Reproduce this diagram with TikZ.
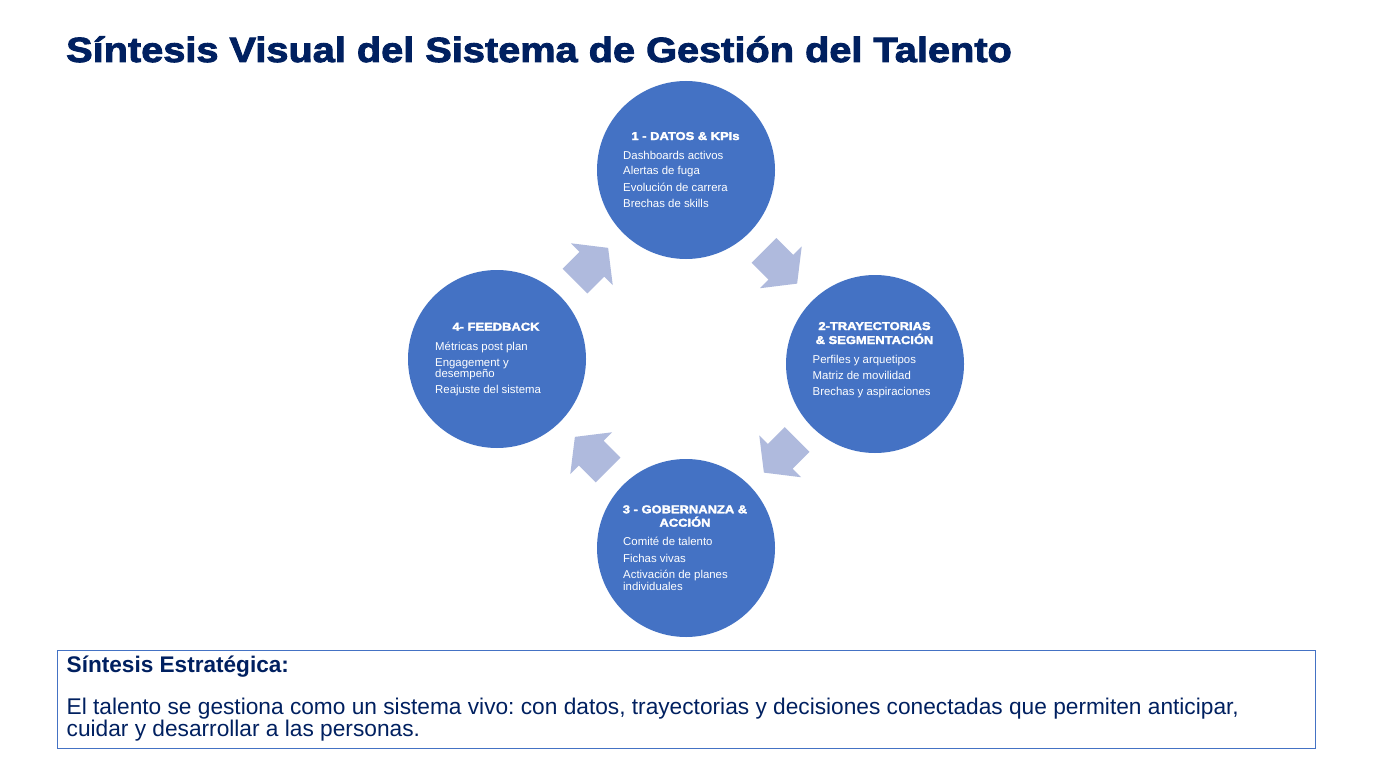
\documentclass[tikz,border=0pt]{standalone}
\usepackage{fontspec}
\setmainfont{Liberation Sans}
\newfontfamily\heavyfont{Liberation Sans}[BoldFeatures={FakeBold=2.6,FakeStretch=1.135}]
\usetikzlibrary{calc}
\frenchspacing
\definecolor{circblue}{HTML}{4472C4}
\definecolor{arrowblue}{HTML}{AFBADD}
\definecolor{navy}{HTML}{002060}
\tikzset{
  circ/.style={circle, fill=circblue, minimum size=178pt, inner sep=0pt},
  hd/.style={anchor=base, inner sep=0pt, text=white, font=\heavyfont\bfseries\fontsize{11.4}{12}\selectfont},
  itm/.style={anchor=base west, inner sep=0pt, text=white, font=\fontsize{11.4}{11.7}\selectfont},
  cyclearrow/.pic={\fill[arrowblue] (-23.5,17.5) -- (0.5,17.5) -- (0.5,29.5) -- (23.5,0) -- (0.5,-29.5) -- (0.5,-17.5) -- (-23.5,-17.5) -- cycle;}
}
\begin{document}
\begin{tikzpicture}[x=1pt,y=-1pt]
\useasboundingbox (0,0) rectangle (1373,773);
\fill[white] (0,0) rectangle (1373,773);
% title
\node[anchor=base west, inner sep=0pt, text=navy, font=\heavyfont\bfseries\fontsize{35}{40}\selectfont] (title) at (66,62) {Síntesis Visual del Sistema de Gestión del Talento};
% circles
\node[circ] (c1) at (686,170) {};
\node[circ] (c2) at (875,364) {};
\node[circ] (c3) at (686,548) {};
\node[circ] (c4) at (497,359) {};
% arrows
\pic[rotate=-45] at ($(c1)!0.5!(c2)$) {cyclearrow};
\pic[rotate=-135] at ($(c2)!0.5!(c3)$) {cyclearrow};
\pic[rotate=135] at ($(c3)!0.5!(c4)$) {cyclearrow};
\pic[rotate=45] at ($(c4)!0.5!(c1)$) {cyclearrow};
% circle 1
\node[hd] (h1) at (685.5,140) {1 - DATOS \& KPIs};
\node[itm] (i11) at (623,159) {Dashboards activos};
\node[itm] (i12) at (623,175) {Alertas de fuga};
\node[itm] (i13) at (623,191) {Evolución de carrera};
\node[itm] (i14) at (623,207.5) {Brechas de skills};
% circle 2
\node[hd] (h2a) at (874.5,330) {2-TRAYECTORIAS};
\node[hd] (h2b) at (874.5,344) {\& SEGMENTACIÓN};
\node[itm] (i21) at (812.5,363) {Perfiles y arquetipos};
\node[itm] (i22) at (812.5,379.5) {Matriz de movilidad};
\node[itm] (i23) at (812.5,395.5) {Brechas y aspiraciones};
% circle 3
\node[hd] (h3a) at (685,513.3) {3 - GOBERNANZA \&};
\node[hd] (h3b) at (685,526.7) {ACCIÓN};
\node[itm] (i31) at (623,545) {Comité de talento};
\node[itm] (i32) at (623,562) {Fichas vivas};
\node[itm] (i33) at (623,578.3) {Activación de planes};
\node[itm] (i34) at (623,590) {individuales};
% circle 4
\node[hd] (h4) at (496,330.7) {4- FEEDBACK};
\node[itm] (i41) at (435,350) {Métricas post plan};
\node[itm] (i42) at (435,366) {Engagement y};
\node[itm] (i43) at (435,377.7) {desempeño};
\node[itm] (i44) at (435,393.3) {Reajuste del sistema};
% box
\node[draw=circblue, line width=1pt, minimum width=1258pt, minimum height=98pt, anchor=north west, inner sep=0pt] (box) at (57,650) {};
\node[anchor=base west, inner sep=0pt, text=navy, font=\bfseries\fontsize{22.6}{26}\selectfont] (bt) at (66.5,672.3) {Síntesis Estratégica:};
\node[anchor=base west, inner sep=0pt, text=navy, font=\fontsize{22.7}{26}\selectfont] (b1) at (66.5,714) {El talento se gestiona como un sistema vivo: con datos, trayectorias y decisiones conectadas que permiten anticipar,};
\node[anchor=base west, inner sep=0pt, text=navy, font=\fontsize{22.7}{26}\selectfont] (b2) at (66.5,736.7) {cuidar y desarrollar a las personas.};
\end{tikzpicture}
\end{document}
